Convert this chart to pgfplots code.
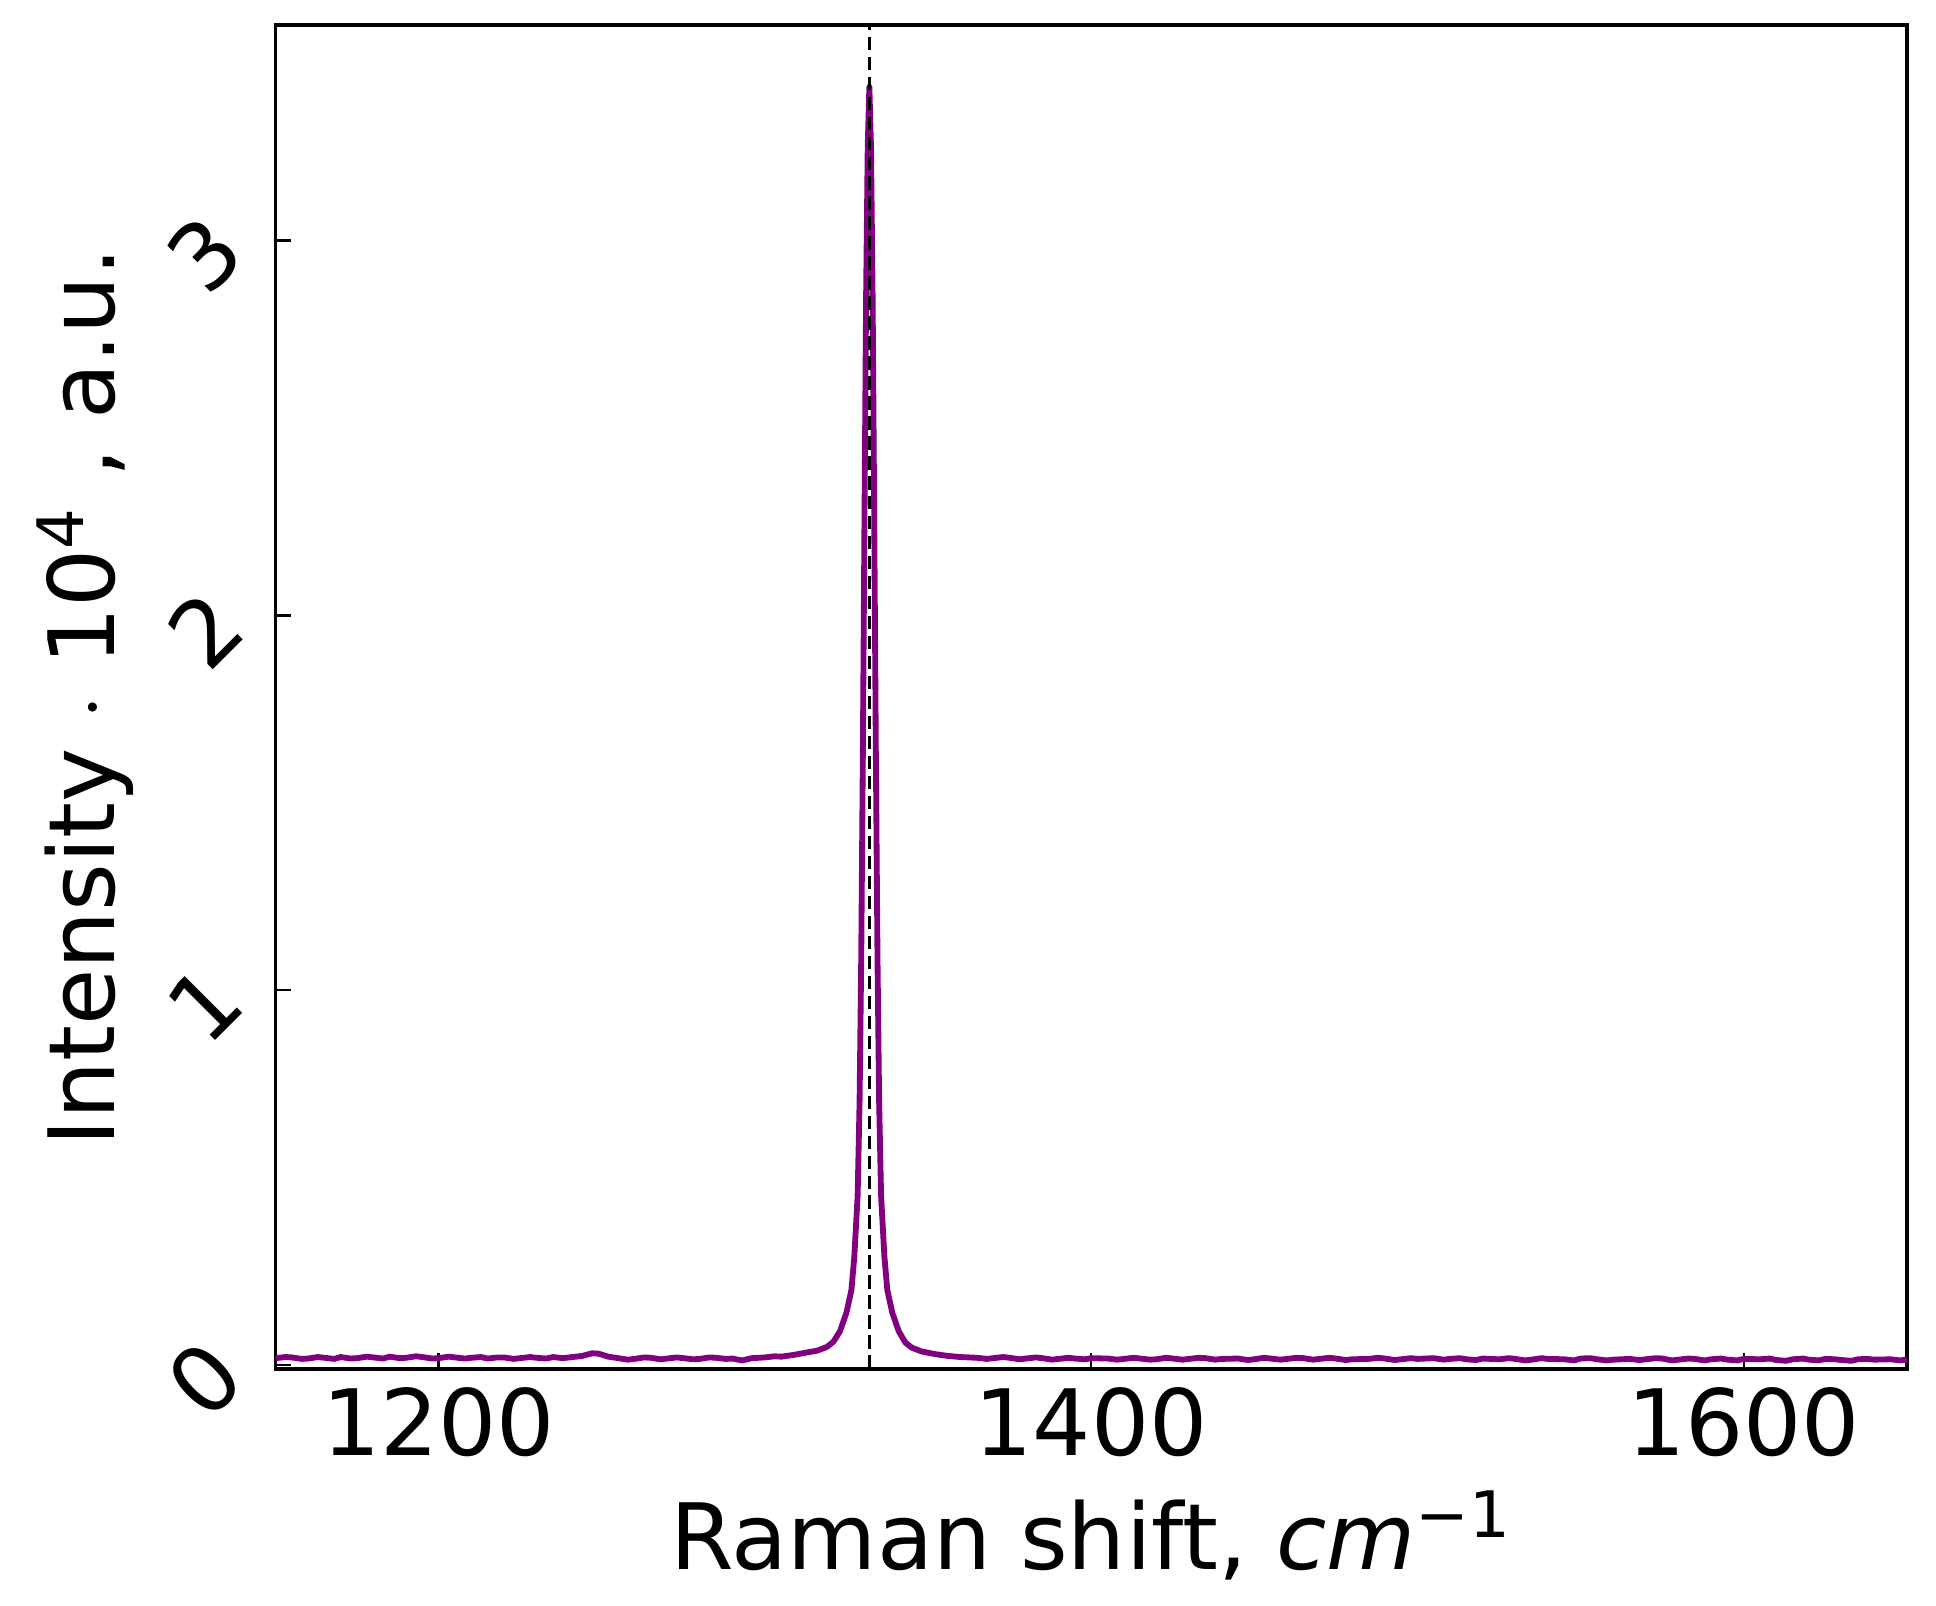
\documentclass[border=0pt]{standalone}
\usepackage{pgfplots}
\pgfplotsset{compat=1.18}
\usepackage{fontspec}
\setmainfont{DejaVu Sans}
\definecolor{mplpurple}{HTML}{800080}
\begin{document}
\begin{tikzpicture}
\begin{axis}[
  scale only axis,
  width=391.9pt, height=322.8pt,
  xmin=1150, xmax=1650, ymin=-0.01, ymax=3.575,
  xtick={1200,1400,1600}, ytick={0,1,2,3},
  xtick pos=bottom, ytick pos=left,
  tick align=inside,
  major tick length=3.8pt,
  every tick/.style={black, line width=0.6pt},
  axis line style={line width=0.9pt},
  /pgf/number format/assume math mode=true,
  /pgf/number format/1000 sep={},
  tick label style={font=\fontsize{22}{26}\selectfont},
  xticklabel style={anchor=north, inner sep=0pt, yshift=-4.3pt},
  yticklabel style={anchor=center, inner sep=0pt, xshift=-17pt, yshift=-3.4pt, rotate=45},
  label style={font=\fontsize{22}{26}\selectfont},
  xlabel={Raman shift, \textit{cm}\textsuperscript{−1}},
  ylabel={Intensity $\cdot$ 10\textsuperscript{4} , a.u.},
  xlabel style={at={(axis description cs:0.5,0)}, anchor=base, inner sep=0pt, yshift=-48.2pt},
  ylabel style={at={(axis description cs:0,0.5)}, anchor=base, inner sep=0pt, yshift=38.6pt},
  clip=true,
]
\addplot[color=mplpurple, line width=1.4pt, line join=round] coordinates {
(1150,0.018)(1153,0.021)(1155,0.020)(1158,0.016)(1160,0.017)(1163,0.021)(1165,0.019)(1168,0.016)(1170,0.021)(1173,0.017)(1175,0.018)(1178,0.022)(1180,0.020)(1183,0.017)(1185,0.022)
(1188,0.018)(1190,0.019)(1193,0.023)(1195,0.021)(1198,0.017)(1200,0.018)(1203,0.022)(1205,0.020)(1208,0.017)(1210,0.019)(1213,0.021)(1215,0.017)(1218,0.020)(1220,0.020)(1223,0.016)(1225,0.018)
(1228,0.021)(1230,0.019)(1233,0.017)(1235,0.021)(1238,0.018)(1240,0.020)(1244,0.024)(1247,0.031)(1249,0.030)(1252,0.022)(1255,0.018)
(1258,0.014)(1260,0.016)(1263,0.020)(1265,0.019)(1268,0.015)(1270,0.017)(1273,0.020)(1275,0.018)(1278,0.015)(1280,0.016)(1283,0.020)(1285,0.019)(1288,0.016)(1290,0.017)(1293,0.012)
(1296,0.018)(1300,0.020)(1303,0.023)(1305,0.022)(1309,0.027)(1312,0.032)(1316,0.038)(1319,0.048)(1321,0.062)
(1323,0.090)(1325,0.140)(1326.5,0.200)(1327.4,0.290)(1328.4,0.450)(1329,0.700)(1329.5,1.080)
(1330,1.620)(1330.5,2.250)(1331,2.850)(1331.5,3.250)(1332,3.410)(1332.5,3.250)(1333,2.850)
(1333.5,2.250)(1334,1.620)(1334.5,1.080)(1335,0.700)(1335.6,0.450)(1336.6,0.290)(1337.5,0.200)
(1339,0.140)(1341,0.090)(1343,0.060)(1345,0.046)(1348,0.036)(1352,0.029)(1356,0.024)(1360,0.021)
(1365,0.019)(1368,0.016)(1370,0.018)(1373,0.021)(1375,0.019)(1378,0.015)(1380,0.017)(1383,0.020)(1385,0.018)(1388,0.014)(1390,0.016)(1393,0.019)(1395,0.017)(1398,0.015)(1400,0.018)
(1405,0.017)(1408,0.014)(1410,0.016)(1413,0.019)(1415,0.017)(1418,0.014)(1420,0.015)(1423,0.019)(1425,0.017)(1428,0.014)(1430,0.016)(1433,0.019)(1435,0.018)(1438,0.014)(1440,0.016)
(1445,0.017)(1448,0.013)(1450,0.015)(1453,0.019)(1455,0.017)(1458,0.014)(1460,0.016)(1463,0.019)(1465,0.018)(1468,0.014)(1470,0.016)(1473,0.019)(1475,0.017)(1478,0.013)(1480,0.015)
(1485,0.016)(1488,0.019)(1490,0.017)(1493,0.013)(1495,0.015)(1498,0.018)(1500,0.016)(1505,0.018)(1508,0.014)(1510,0.016)(1513,0.018)(1515,0.015)(1518,0.013)(1520,0.017)
(1525,0.015)(1528,0.018)(1530,0.016)(1533,0.012)(1535,0.014)(1538,0.018)(1540,0.016)(1545,0.015)(1548,0.012)(1550,0.017)(1553,0.018)(1555,0.015)(1558,0.012)(1560,0.014)
(1565,0.016)(1568,0.013)(1570,0.015)(1573,0.018)(1575,0.017)(1578,0.012)(1580,0.014)(1583,0.017)(1585,0.016)(1588,0.012)(1590,0.015)(1593,0.017)(1595,0.014)(1598,0.012)(1600,0.016)
(1605,0.015)(1608,0.017)(1610,0.013)(1613,0.011)(1615,0.015)(1618,0.017)(1620,0.014)(1623,0.012)(1625,0.016)(1628,0.015)(1630,0.013)(1633,0.011)(1635,0.015)(1638,0.016)(1640,0.014)
(1645,0.015)(1648,0.012)(1650,0.014)
};
\addplot[black, line width=0.7pt, dash pattern=on 3.2pt off 1.6pt] coordinates {(1332,-0.01) (1332,3.575)};
\coordinate (sw) at (rel axis cs:0,0);
\coordinate (ne) at (rel axis cs:1,1);
\end{axis}
\path (sw) ++(-66.2pt,-56.9pt) coordinate (bbsw);
\path (ne) ++(7pt,6pt) coordinate (bbne);
\path (bbsw) rectangle (bbne);
\end{tikzpicture}
\end{document}
